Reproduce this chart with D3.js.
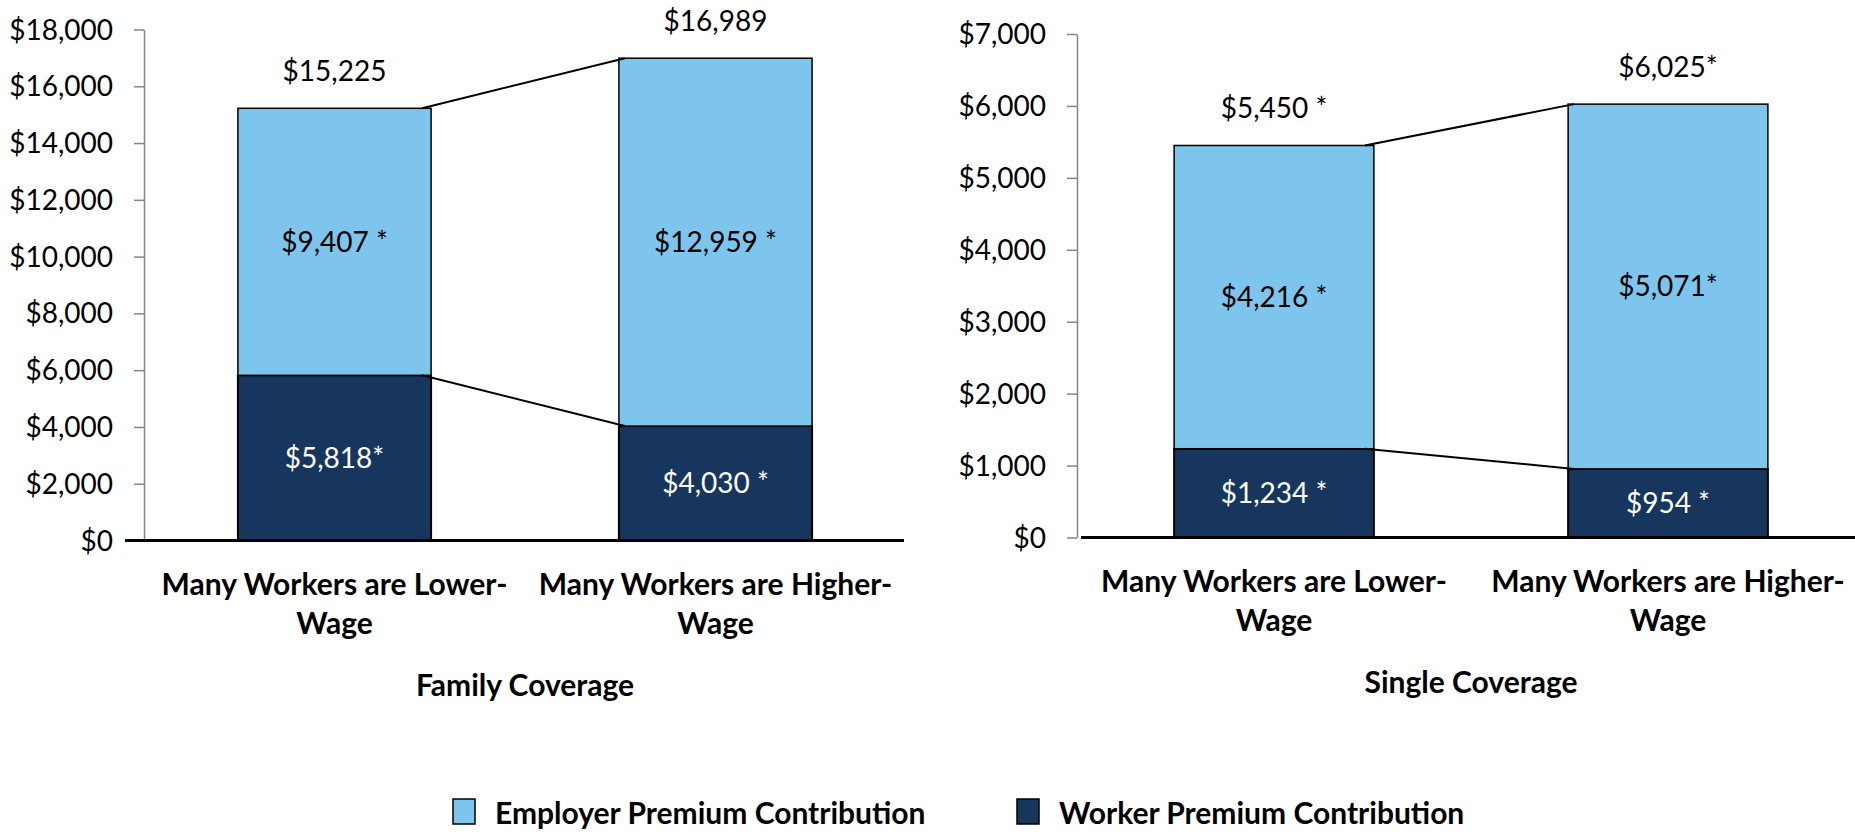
<!DOCTYPE html>
<html>
<head>
<meta charset="utf-8">
<script src="https://cdn.jsdelivr.net/npm/d3@7"></script>
<style>
  body { margin: 0; background: #fff; }
  svg text { font-family: Lato, "Open Sans", sans-serif; }
</style>
</head>
<body>
<div id="chart"></div>
<script>
// categories shared by both panels
const categories = ["Many Workers are Lower-Wage", "Many Workers are Higher-Wage"];

// family coverage
const familyWorker         = [5818, 4030];
const familyEmployer       = [9407, 12959];
const familyWorkerLabels   = ["$5,818*", "$4,030 *"];
const familyEmployerLabels = ["$9,407 *", "$12,959 *"];
const familyTotalLabels    = ["$15,225", "$16,989"];
const familyTicks          = [0, 2000, 4000, 6000, 8000, 10000, 12000, 14000, 16000, 18000];

// single coverage
const singleWorker         = [1234, 954];
const singleEmployer       = [4216, 5071];
const singleWorkerLabels   = ["$1,234 *", "$954 *"];
const singleEmployerLabels = ["$4,216 *", "$5,071*"];
const singleTotalLabels    = ["$5,450 *", "$6,025*"];
const singleTicks          = [0, 1000, 2000, 3000, 4000, 5000, 6000, 7000];

const seriesNames  = ["Employer Premium Contribution", "Worker Premium Contribution"];
const seriesColors = ["#7DC5EC", "#17365D"];

const width  = 1855;
const height = 837;
const fontSize = 28;
const boldSize = 30;

const svg = d3.select('#chart')
  .append('svg')
  .attr('width', width)
  .attr('height', height);

function drawPanel(opt) {
  const g = svg.append('g');

  const x = d3.scaleBand()
    .domain(categories)
    .range([opt.left, opt.right])
    .paddingInner(0.493)
    .paddingOuter(0.2465);

  const y = d3.scaleLinear()
    .domain([0, d3.max(opt.ticks)])
    .range([opt.bottom, opt.top]);

  const rows = categories.map((c, i) => ({ cat: c, worker: opt.worker[i], employer: opt.employer[i] }));
  const stacked = d3.stack().keys(['worker', 'employer'])(rows);
  const colorOf = { worker: seriesColors[1], employer: seriesColors[0] };
  const labelsOf = { worker: opt.workerLabels, employer: opt.employerLabels };

  // bars
  stacked.forEach(s => {
    g.append('g').selectAll('rect')
      .data(s)
      .enter()
      .append('rect')
      .attr('x', d => x(d.data.cat))
      .attr('y', d => y(d[1]))
      .attr('width', x.bandwidth())
      .attr('height', d => y(d[0]) - y(d[1]))
      .attr('fill', colorOf[s.key])
      .attr('stroke', '#000')
      .attr('stroke-width', s.key === 'worker' ? 2 : 1.5);
  });

  // series lines between the bars
  stacked.forEach(s => {
    g.append('line')
      .attr('x1', x(categories[0]) + x.bandwidth() - 9)
      .attr('y1', y(s[0][1]))
      .attr('x2', x(categories[1]) + 6)
      .attr('y2', y(s[1][1]))
      .attr('stroke', '#000')
      .attr('stroke-width', 2);
  });

  // y axis
  const yAxis = d3.axisLeft(y)
    .tickValues(opt.ticks)
    .tickFormat(d3.format('$,'))
    .tickSize(10)
    .tickSizeOuter(0)
    .tickPadding(21);

  const ax = g.append('g')
    .attr('transform', `translate(${opt.left},0)`)
    .call(yAxis);
  ax.attr('font-family', null).attr('font-size', fontSize);
  ax.select('.domain').attr('stroke', '#868686').attr('stroke-width', 1.5);
  ax.selectAll('.tick line').attr('stroke', '#868686').attr('stroke-width', 1.5);
  ax.selectAll('.tick text').attr('fill', '#000').attr('dy', '0.34em');

  // baseline
  g.append('line')
    .attr('x1', opt.baseStart)
    .attr('x2', opt.baseEnd)
    .attr('y1', y(0))
    .attr('y2', y(0))
    .attr('stroke', '#000')
    .attr('stroke-width', 3);

  // segment labels
  stacked.forEach(s => {
    g.append('g').selectAll('text')
      .data(s)
      .enter()
      .append('text')
      .attr('x', d => x(d.data.cat) + x.bandwidth() / 2)
      .attr('y', d => y((d[0] + d[1]) / 2))
      .attr('dy', '0.35em')
      .attr('text-anchor', 'middle')
      .attr('font-size', fontSize)
      .attr('fill', s.key === 'worker' ? '#fff' : '#000')
      .text((d, i) => labelsOf[s.key][i]);
  });

  // totals above bars
  const top = stacked[stacked.length - 1];
  g.append('g').selectAll('text')
    .data(top)
    .enter()
    .append('text')
    .attr('x', d => x(d.data.cat) + x.bandwidth() / 2)
    .attr('y', d => y(d[1]) - 37)
    .attr('dy', '0.35em')
    .attr('text-anchor', 'middle')
    .attr('font-size', fontSize)
    .attr('fill', '#000')
    .text((d, i) => opt.totalLabels[i]);

  // category labels, wrapped after the hyphen
  const cat = g.append('g').selectAll('text')
    .data(categories)
    .enter()
    .append('text')
    .attr('text-anchor', 'middle')
    .attr('font-size', boldSize)
    .attr('font-weight', 'bold')
    .attr('fill', '#000');
  cat.each(function(c) {
    const cut = c.indexOf('-') + 1;
    const cx = x(c) + x.bandwidth() / 2;
    const t = d3.select(this);
    t.append('tspan').attr('x', cx).attr('y', y(0) + 44).attr('dy', '0.35em').text(c.slice(0, cut));
    t.append('tspan').attr('x', cx).attr('y', y(0) + 83).attr('dy', '0.35em').text(c.slice(cut));
  });

  // panel title
  g.append('text')
    .attr('x', (opt.left + opt.right) / 2)
    .attr('y', y(0) + 145)
    .attr('dy', '0.35em')
    .attr('text-anchor', 'middle')
    .attr('font-size', boldSize)
    .attr('font-weight', 'bold')
    .attr('fill', '#000')
    .text(opt.title);
}

drawPanel({
  title: 'Family Coverage',
  worker: familyWorker, employer: familyEmployer,
  workerLabels: familyWorkerLabels, employerLabels: familyEmployerLabels, totalLabels: familyTotalLabels,
  ticks: familyTicks,
  left: 144, right: 906, top: 29.5, bottom: 540.5,
  baseStart: 125, baseEnd: 904
});

drawPanel({
  title: 'Single Coverage',
  worker: singleWorker, employer: singleEmployer,
  workerLabels: singleWorkerLabels, employerLabels: singleEmployerLabels, totalLabels: singleTotalLabels,
  ticks: singleTicks,
  left: 1077, right: 1865, top: 34, bottom: 537.5,
  baseStart: 1081, baseEnd: 1855
});

// legend
const legendX = [453, 1017];
const legend = svg.append('g').selectAll('g')
  .data(seriesNames)
  .enter()
  .append('g')
  .attr('transform', (d, i) => `translate(${legendX[i]},799)`);
legend.append('rect')
  .attr('width', 22)
  .attr('height', 25)
  .attr('fill', (d, i) => seriesColors[i])
  .attr('stroke', '#000')
  .attr('stroke-width', 1.5);
legend.append('text')
  .attr('x', 42)
  .attr('y', 14)
  .attr('dy', '0.35em')
  .attr('font-size', boldSize)
  .attr('font-weight', 'bold')
  .attr('fill', '#000')
  .text(d => d);
</script>
</body>
</html>
